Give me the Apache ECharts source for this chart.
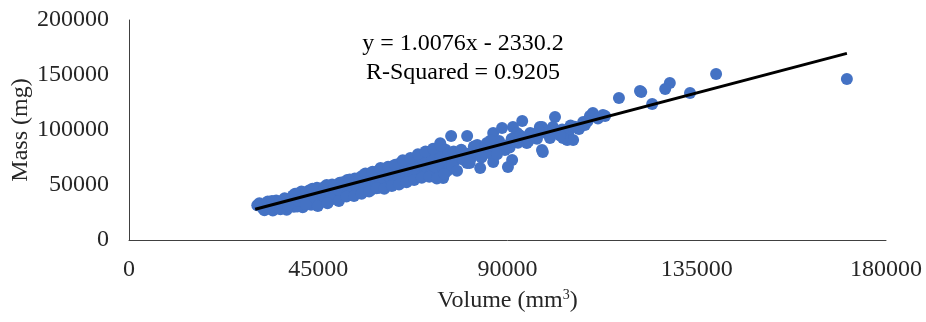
<!DOCTYPE html>
<html><head><meta charset="utf-8">
<script src="https://cdn.jsdelivr.net/npm/echarts@6/dist/echarts.min.js"></script>
<style>html,body{margin:0;padding:0;background:#fff}#c{width:926px;height:322px}</style>
</head><body><div id="c"></div>
<script>
// Volume (mm^3), thousands
const volumeK = [
30.5,31.8,32.6,33.4,34.2,34.9,35.5,36.3,36.8,37.5,38.1,38.7,39.2,39.8,40.4,40.9,41.3,41.9,42.4,42.8,
43.3,43.8,44.2,44.7,45.1,45.6,46.0,46.5,46.9,47.4,47.8,48.3,48.7,49.2,49.6,50.1,50.5,51.0,51.4,51.9,
52.3,52.8,53.2,53.7,54.1,54.6,55.0,55.5,55.9,56.4,56.8,57.3,57.7,58.2,58.6,59.1,59.5,60.0,60.4,60.9,
61.3,61.8,62.2,62.7,63.1,63.6,64.0,64.5,64.9,65.4,65.8,66.3,66.7,67.2,67.6,68.1,68.5,69.0,69.4,69.9,
70.3,70.8,71.2,71.7,72.1,72.6,73.0,73.5,73.9,74.4,74.8,75.3,75.7,76.2,
31.0,33.0,35.0,37.0,39.0,41.0,43.0,45.0,47.0,49.0,50.0,52.0,54.0,56.0,58.0,60.0,62.0,64.0,66.0,68.0,70.0,72.0,74.0,76.0,
36.0,40.0,44.0,48.0,52.0,56.0,60.0,64.0,68.0,72.0,
76.6,80.4,74.0,86.6,88.7,91.3,93.5,97.7,99.6,98.2,82.8,85.1,89.4,91.1,90.1,86.6,83.5,80.4,76.3,74.7,78.7,94.6,92.3,95.4,
77.5,78.5,79.5,80.5,81.5,82.5,84.0,85.5,87.0,88.0,89.5,91.0,92.5,94.0,96.0,97.0,99.0,101.5,103.0,104.5,106.0,107.0,
121.5,116.5,113.2,110.3,109.6,108.0,108.4,101.3,100.8,104.2,98.4,98.2,100.1,105.6,103.2,
170.7,139.6,133.4,128.6,127.5,124.4,121.8,112.7,
32.2,34.0,35.8,37.8,39.5,40.2,42.0,43.6,44.9,46.3,47.2,48.9,49.9,50.8,51.7,52.5,53.5,54.8,55.3,56.2,
57.1,57.9,58.9,59.8,60.7,61.6,62.5,63.3,64.2,65.1,66.0,66.9,67.8,68.7,69.6,70.5,71.4,72.3,73.2,74.1,
75.0,76.8,77.2,78.0,79.0,81.0,82.0,83.8,86.0,87.5,90.5,93.0,95.0,97.5,102.5,105.0,109.0,111.5
];
// Mass (mg), thousands
const massK = [
31.5,29.0,33.2,30.5,26.8,32.8,29.5,35.5,31.0,27.5,34.0,38.0,30.2,36.5,33.0,41.5,29.8,38.5,35.0,45.0,
32.0,41.0,37.5,47.5,34.5,43.5,39.8,48.5,36.0,44.8,41.0,50.5,37.5,46.0,42.5,52.0,39.0,48.0,44.0,54.5,
41.0,49.5,45.5,56.0,42.5,51.0,47.0,58.5,44.5,53.0,49.0,60.5,46.0,55.0,51.0,62.5,47.5,57.0,52.5,64.5,
49.5,58.5,54.5,67.0,51.5,60.5,56.0,70.0,53.0,62.5,58.0,71.5,55.0,64.5,60.0,74.0,57.0,66.5,62.0,77.5,
59.0,68.5,64.0,80.0,61.0,70.5,66.0,84.0,58.0,72.5,68.0,82.0,63.0,74.5,
33.5,35.0,36.0,38.0,40.5,44.0,38.0,40.0,50.0,40.0,45.0,47.0,48.5,50.5,58.5,61.0,62.0,63.5,65.0,67.0,72.0,76.5,77.5,79.0,
28.0,30.5,34.0,37.0,43.0,46.5,50.0,53.5,58.0,62.0,
94.5,94.5,88.0,97.3,101.8,102.7,108.2,102.7,99.0,81.8,86.4,88.2,81.8,72.7,66.4,70.9,65.4,70.0,66.4,56.4,75.4,88.2,97.3,97.3,
72.0,76.0,73.0,78.5,75.5,80.0,83.0,79.0,84.5,90.0,86.0,92.0,88.5,93.0,96.0,92.0,97.5,99.0,100.5,98.0,103.0,101.0,
135.4,129.1,112.7,115.4,112.7,107.3,104.5,111.8,102.7,90.9,80.0,102.7,92.7,90.9,92.7,
146.3,150.9,133.6,142.7,137.3,123.6,134.5,113.6,
27.0,35.5,33.8,31.5,42.0,35.8,32.5,46.5,30.8,45.5,33.5,49.0,35.5,52.5,39.5,55.0,40.0,56.5,42.0,60.5,
44.0,62.0,47.0,65.5,46.5,66.5,49.0,68.5,50.5,72.5,52.5,74.5,54.5,78.0,56.5,80.5,57.5,83.0,56.0,86.0,
60.0,68.0,80.5,63.0,82.0,70.0,85.0,75.0,90.5,78.0,84.0,95.0,90.0,99.5,95.0,104.0,108.0,110.5
];
const xTicks = [0, 45000, 90000, 135000, 180000];
const yTicks = [0, 50000, 100000, 150000, 200000];
const slope = 1.0076, intercept = -2330.2;
const trendX = [30000, 170700];
const eqText = 'y = 1.0076x - 2330.2';
const r2Text = 'R-Squared = 0.9205';

const points = volumeK.map((v, i) => [v * 1000, massK[i] * 1000]);
const trend = trendX.map(x => [x, slope * x + intercept]);
const font = '"Liberation Serif", "Times New Roman", serif';
const chart = echarts.init(document.getElementById('c'), null, {renderer: 'canvas'});
chart.setOption({
  animation: false,
  backgroundColor: '#fff',
  grid: {left: 129, right: 40, top: 20, bottom: 82, containLabel: false, outerBoundsMode: 'none'},
  xAxis: {
    type: 'value', min: xTicks[0], max: xTicks[xTicks.length - 1], interval: xTicks[1] - xTicks[0],
    name: 'Volume (mm{sup|3})', nameLocation: 'middle', nameGap: 48, nameMoveOverlap: false,
    nameTextStyle: {fontFamily: font, fontSize: 24, color: '#262626',
      rich: {sup: {fontFamily: font, fontSize: 14, color: '#262626', verticalAlign: 'top', padding: [0, 0, 12, 0]}}},
    axisLine: {lineStyle: {color: '#404040', width: 1}},
    axisTick: {show: false}, splitLine: {show: false},
    axisLabel: {fontFamily: font, fontSize: 24, color: '#262626', margin: 18, formatter: v => String(v)}
  },
  yAxis: {
    type: 'value', min: yTicks[0], max: yTicks[yTicks.length - 1], interval: yTicks[1] - yTicks[0],
    name: 'Mass (mg)', nameLocation: 'middle', nameGap: 96, nameMoveOverlap: false,
    nameTextStyle: {fontFamily: font, fontSize: 24, color: '#262626'},
    axisLine: {show: true, lineStyle: {color: '#404040', width: 1}},
    axisTick: {show: false}, splitLine: {show: false},
    axisLabel: {fontFamily: font, fontSize: 24, color: '#262626', margin: 20, formatter: v => String(v)}
  },
  series: [
    {type: 'scatter', data: points, symbolSize: 12, itemStyle: {color: '#4472C4', opacity: 1}, z: 2},
    {type: 'line', data: trend, showSymbol: false, lineStyle: {color: '#000', width: 3}, z: 3}
  ],
  graphic: [
    {type: 'text', left: 'center', top: 32, style: {text: eqText, font: '24px ' + font, fill: '#000'}},
    {type: 'text', left: 'center', top: 61, style: {text: r2Text, font: '24px ' + font, fill: '#000'}}
  ]
});
</script></body></html>
